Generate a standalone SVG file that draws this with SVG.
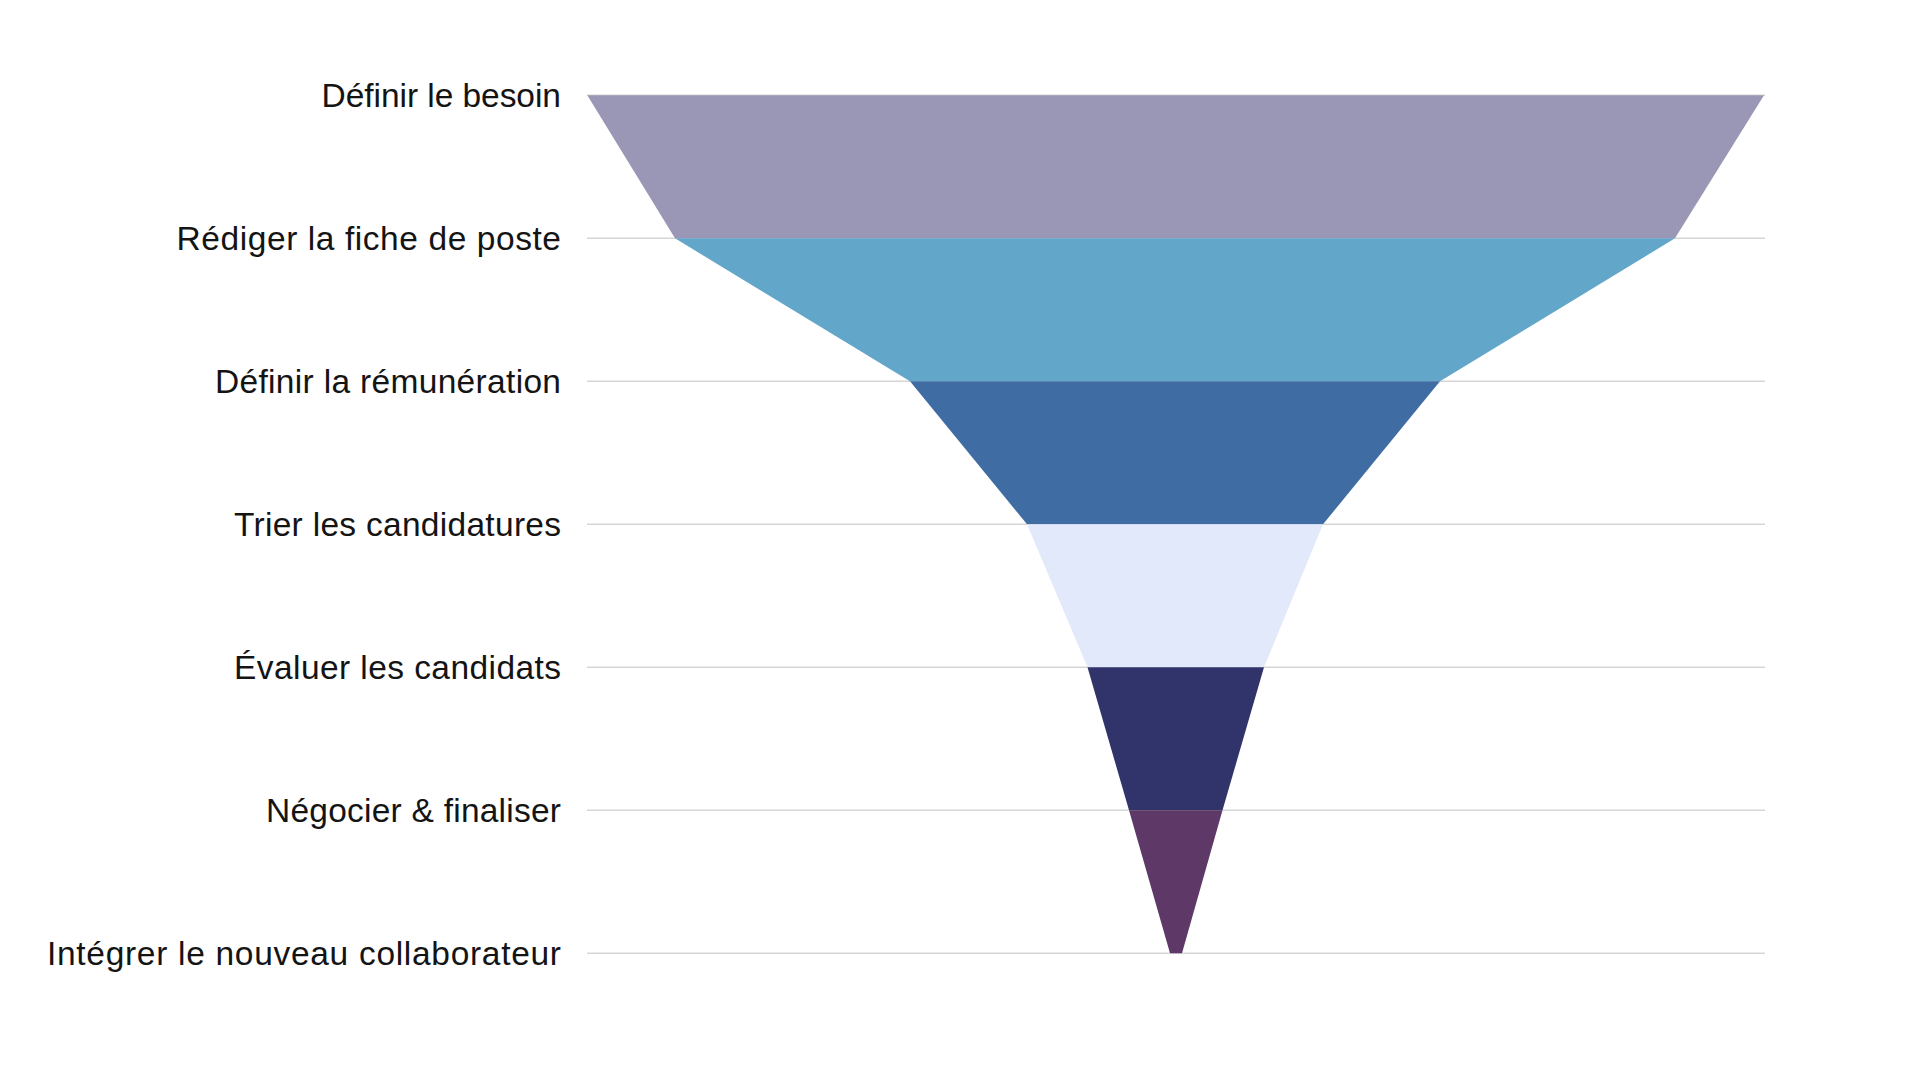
<svg xmlns="http://www.w3.org/2000/svg" width="1920" height="1080" viewBox="0 0 1920 1080">
<style>
.grid{stroke:#d6d6d6;stroke-width:1.5;fill:none}
.lbl{font-family:"Liberation Sans",Arial,sans-serif;font-size:33.5px;fill:#141414;text-anchor:end}
</style>
<rect width="1920" height="1080" fill="#ffffff"/>
<g id="connectors">
<line class="grid" x1="587" y1="95.3" x2="1765" y2="95.3"/>
<line class="grid" x1="587" y1="238.3" x2="1765" y2="238.3"/>
<line class="grid" x1="587" y1="381.3" x2="1765" y2="381.3"/>
<line class="grid" x1="587" y1="524.3" x2="1765" y2="524.3"/>
<line class="grid" x1="587" y1="667.3" x2="1765" y2="667.3"/>
<line class="grid" x1="587" y1="810.3" x2="1765" y2="810.3"/>
<line class="grid" x1="587" y1="953.3" x2="1765" y2="953.3"/>
</g>
<g id="stage1"><polygon points="587.3,95.3 1764,95.3 1675,238.3 675,238.3" fill="#9A97B6"/><text class="lbl" x="561" y="106.8" textLength="239.5" lengthAdjust="spacing">Définir le besoin</text></g>
<g id="stage2"><polygon points="675,238.3 1675,238.3 1440,381.3 910,381.3" fill="#62A6CA"/><text class="lbl" x="561" y="249.8" textLength="384.5" lengthAdjust="spacing">Rédiger la fiche de poste</text></g>
<g id="stage3"><polygon points="910,381.3 1440,381.3 1323,524.3 1027,524.3" fill="#3F6CA2"/><text class="lbl" x="561" y="392.8" textLength="346" lengthAdjust="spacing">Définir la rémunération</text></g>
<g id="stage4"><polygon points="1027,524.3 1323,524.3 1264,667.3 1087.5,667.3" fill="#E2E9FB"/><text class="lbl" x="561" y="535.8" textLength="327" lengthAdjust="spacing">Trier les candidatures</text></g>
<g id="stage5"><polygon points="1087.5,667.3 1264,667.3 1222.5,810.3 1129,810.3" fill="#31346B"/><text class="lbl" x="561" y="678.8" textLength="327" lengthAdjust="spacing">Évaluer les candidats</text></g>
<g id="stage6"><polygon points="1129,810.3 1222.5,810.3 1182,953.3 1170,953.3" fill="#5E3866"/><text class="lbl" x="561" y="821.8" textLength="295" lengthAdjust="spacing">Négocier &amp; finaliser</text></g>
<g id="stage7"><text class="lbl" x="561" y="964.8" textLength="514" lengthAdjust="spacing">Intégrer le nouveau collaborateur</text></g>
</svg>
